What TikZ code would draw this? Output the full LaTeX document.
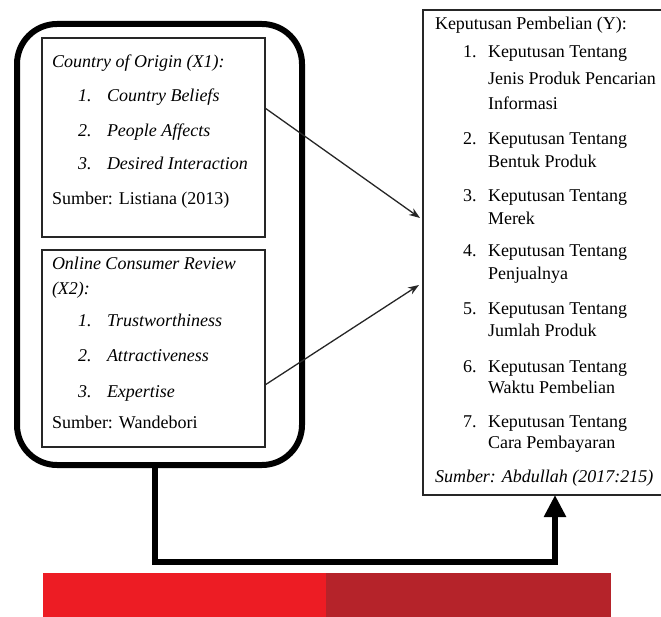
\documentclass[tikz,border=0pt]{standalone}
\usepackage{fontspec}
\setmainfont{Liberation Serif}
\usetikzlibrary{arrows.meta}
\definecolor{redA}{RGB}{237,28,36}
\definecolor{redB}{RGB}{181,35,42}
\begin{document}
\begin{tikzpicture}[x=1pt,y=-1pt,
  txt/.style={inner sep=0pt, outer sep=0pt, anchor=base west, font=\fontsize{18}{22}\selectfont},
  itx/.style={txt, font=\fontsize{18}{22}\selectfont\itshape},
  thinbox/.style={draw=black!85, line width=1.2pt, inner sep=0pt, outer sep=0pt, anchor=north west},
  bigbox/.style={draw=black, line width=6pt, rounded corners=40pt, inner sep=0pt, outer sep=0pt, anchor=north west},
  arr/.style={draw=black!85, line width=1.3pt, -{Stealth[length=11pt,width=8pt]}},
  conn/.style={draw=black, line width=6pt, line join=miter, -{Triangle[width=21pt,length=22pt]}}
]
\useasboundingbox (0,0) rectangle (661,617);
\clip (0,0) rectangle (661,617);

% outer rounded frame
\node[bigbox, minimum width=285pt, minimum height=441pt] (o) at (17,24) {};

% box X1
\node[thinbox, minimum width=223pt, minimum height=199pt] (b1) at (42,38) {};
\node[itx] (b1h) at (52,68) {Country of Origin (X1):};
\node[itx] (b1n1) at (78,102) {1.};
\node[itx] (b1t1) at (107,102) {Country Beliefs};
\node[itx] (b1n2) at (78,137) {2.};
\node[itx] (b1t2) at (107,137) {People Affects};
\node[itx] (b1n3) at (78,170) {3.};
\node[itx] (b1t3) at (107,170) {Desired Interaction};
\node[txt] (b1s) at (52,205) {Sumber: Listiana (2013)};

% box X2
\node[thinbox, minimum width=223pt, minimum height=197pt] (b2) at (42,250) {};
\node[itx] (b2h1) at (52,270) {Online Consumer Review};
\node[itx] (b2h2) at (52,295) {(X2):};
\node[itx] (b2n1) at (78,327) {1.};
\node[itx] (b2t1) at (107,327) {Trustworthiness};
\node[itx] (b2n2) at (78,362) {2.};
\node[itx] (b2t2) at (107,362) {Attractiveness};
\node[itx] (b2n3) at (78,397) {3.};
\node[itx] (b2t3) at (107,397) {Expertise};
\node[txt] (b2s) at (52,428) {Sumber: Wandebori};

% box Y
\node[thinbox, minimum width=245pt, minimum height=485pt] (Y) at (423,10) {};
\node[txt] (yh) at (435,30) {Keputusan Pembelian (Y):};
\node[txt] (yn1) at (463,58) {1.};
\node[txt] (yt1a) at (488,58) {Keputusan Tentang};
\node[txt] (yt1b) at (488,85) {Jenis Produk Pencarian};
\node[txt] (yt1c) at (488,110) {Informasi};
\node[txt] (yn2) at (463,145) {2.};
\node[txt] (yt2a) at (488,145) {Keputusan Tentang};
\node[txt] (yt2b) at (488,168) {Bentuk Produk};
\node[txt] (yn3) at (463,202) {3.};
\node[txt] (yt3a) at (488,202) {Keputusan Tentang};
\node[txt] (yt3b) at (488,225) {Merek};
\node[txt] (yn4) at (463,257) {4.};
\node[txt] (yt4a) at (488,257) {Keputusan Tentang};
\node[txt] (yt4b) at (488,280) {Penjualnya};
\node[txt] (yn5) at (463,315) {5.};
\node[txt] (yt5a) at (488,315) {Keputusan Tentang};
\node[txt] (yt5b) at (488,337) {Jumlah Produk};
\node[txt] (yn6) at (463,372) {6.};
\node[txt] (yt6a) at (488,372) {Keputusan Tentang};
\node[txt] (yt6b) at (488,393) {Waktu Pembelian};
\node[txt] (yn7) at (463,427) {7.};
\node[txt] (yt7a) at (488,427) {Keputusan Tentang};
\node[txt] (yt7b) at (488,448) {Cara Pembayaran};
\node[itx] (ys) at (435,482) {Sumber: Abdullah (2017:215)};

% arrows
\draw[arr] ([yshift=-70pt]b1.north east) -- ([xshift=-3pt,yshift=-208pt]Y.north west);
\draw[arr] ([yshift=-135pt]b2.north east) -- ([xshift=-4pt,yshift=-275pt]Y.north west);
\draw[conn] ([xshift=138pt]o.south west) |- ([xshift=132pt,yshift=-67pt]Y.south west) -- ([xshift=132pt]Y.south west);

% red bar
\fill[redA] (43,573) rectangle (326,620);
\fill[redB] (326,573) rectangle (611,620);
\end{tikzpicture}
\end{document}
